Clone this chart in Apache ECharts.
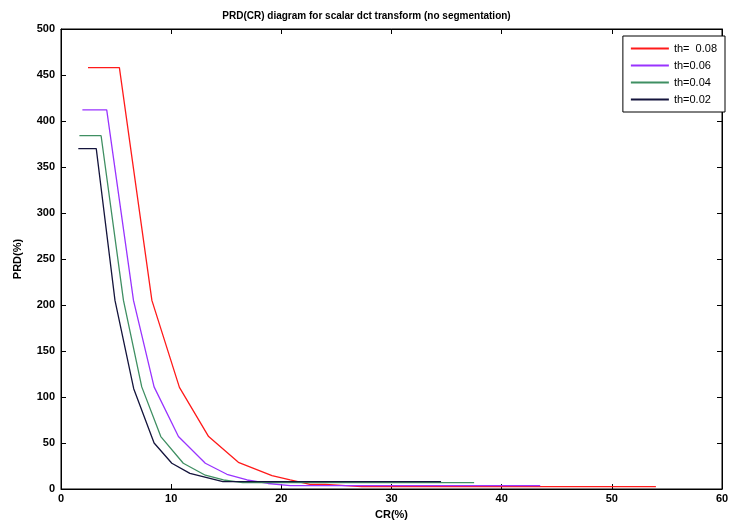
<!DOCTYPE html>
<html><head><meta charset="utf-8">
<script src="https://cdn.jsdelivr.net/npm/echarts@6/dist/echarts.min.js"></script>
<style>html,body{margin:0;padding:0;background:#fff}#c{width:733px;height:527px}</style>
</head><body><div id="c"></div>
<script>
const seriesNames = ['th=  0.08', 'th=0.06', 'th=0.04', 'th=0.02'];
const crRed  = [2.45, 5.3, 8.25, 10.75, 13.4, 16.1, 19.15, 20.8, 22.6, 24.0, 27.3, 54.0];
const prdRed = [458, 458, 205, 110.5, 57, 29, 14.5, 9.8, 5, 5, 2.6, 2.6];
const crPur  = [1.94, 4.15, 6.58, 8.45, 10.66, 13.1, 15.06, 16.9, 18.8, 20.8, 43.5];
const prdPur = [412, 412, 205, 111, 57, 28, 16, 9.8, 6, 3.6, 3.6];
const crGrn  = [1.67, 3.64, 5.67, 7.33, 9.06, 11.1, 13.1, 14.75, 16.5, 37.5];
const prdGrn = [384, 384, 205, 111, 57, 28, 15, 9.8, 7, 7];
const crBlk  = [1.57, 3.2, 4.9, 6.6, 8.45, 10.06, 11.7, 14.7, 34.5];
const prdBlk = [370, 370, 205, 109, 50, 28, 17, 8, 8];
const colors = ['#ff1a1a', '#9933ff', '#3f8f62', '#14143c'];

const pairs = (xs, ys) => xs.map((x, i) => [x, ys[i]]);
const allData = [pairs(crRed, prdRed), pairs(crPur, prdPur), pairs(crGrn, prdGrn), pairs(crBlk, prdBlk)];

const chart = echarts.init(document.getElementById('c'));
const font = 'Arial, "Liberation Sans", sans-serif';
const tickStyle = {show: true, inside: true, length: 5, lineStyle: {color: '#000', width: 1}};
const lineStyleAx = {show: true, onZero: false, lineStyle: {color: '#000', width: 1}};
const labelStyle = {fontSize: 11, fontWeight: 'bold', fontFamily: font, color: '#000'};
chart.setOption({
  animation: false,
  backgroundColor: '#fff',
  title: {
    text: 'PRD(CR) diagram for scalar dct transform (no segmentation)',
    left: 'center', top: 6,
    textStyle: {fontSize: 10, fontWeight: 'bold', fontFamily: font, color: '#000'}
  },
  grid: {left: 61, right: 11, top: 29, bottom: 38, show: true, borderColor: '#000', borderWidth: 1, backgroundColor: 'transparent'},
  legend: {
    orient: 'vertical', right: 8, top: 36,
    data: seriesNames.map((n, i) => ({name: n, itemStyle: {color: colors[i]}})),
    backgroundColor: '#fff', borderColor: '#000', borderWidth: 1,
    padding: [7, 8, 7, 8], itemGap: 6, itemWidth: 38, itemHeight: 2,
    icon: 'rect',
    textStyle: {fontSize: 11, fontFamily: font, color: '#000'}
  },
  xAxis: [
    {type: 'value', min: 0, max: 60, interval: 10, name: 'CR(%)',
      nameLocation: 'middle', nameGap: 20,
      nameTextStyle: labelStyle,
      axisLine: lineStyleAx, axisTick: tickStyle, splitLine: {show: false},
      axisLabel: Object.assign({margin: 4}, labelStyle)},
    {type: 'value', min: 0, max: 60, interval: 10, position: 'top',
      axisLine: lineStyleAx, axisTick: tickStyle, splitLine: {show: false},
      axisLabel: {show: false}}
  ],
  yAxis: [
    {type: 'value', min: 0, max: 500, interval: 50, name: 'PRD(%)',
      nameLocation: 'middle', nameGap: 38,
      nameTextStyle: labelStyle,
      axisLine: lineStyleAx, axisTick: tickStyle, splitLine: {show: false},
      axisLabel: Object.assign({margin: 6}, labelStyle)},
    {type: 'value', min: 0, max: 500, interval: 50, position: 'right',
      axisLine: lineStyleAx, axisTick: tickStyle, splitLine: {show: false},
      axisLabel: {show: false}}
  ],
  series: allData.map((d, i) => ({
    name: seriesNames[i], type: 'line', data: d,
    showSymbol: false, symbol: 'none',
    lineStyle: {color: colors[i], width: 1.3},
    itemStyle: {color: colors[i]},
    z: 2 + i
  }))
});
</script></body></html>
